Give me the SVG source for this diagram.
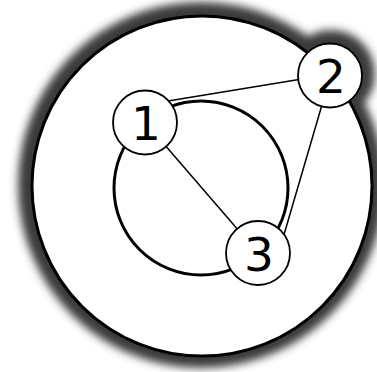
<svg xmlns="http://www.w3.org/2000/svg" width="377" height="372" viewBox="0 0 377 372">
<defs>
<filter id="blur" x="-20%" y="-20%" width="140%" height="140%"><feGaussianBlur stdDeviation="4"/></filter>
<style>
.node circle{fill:#fff;stroke:#000;stroke-width:1.8}
.node text{font-family:"DejaVu Sans",Verdana,sans-serif;font-size:47px;text-anchor:middle;fill:#000}
.edge{stroke:#000;stroke-width:1.5;fill:none}
</style>
</defs>
<rect width="377" height="372" fill="#fff"/>
<g id="shadow" filter="url(#blur)" fill="#3a3a3a">
<circle cx="201" cy="185" r="183"/>
<circle cx="331" cy="74" r="44"/>
</g>
<g id="outer">
<circle cx="202" cy="186" r="170" fill="#fff" stroke="#000" stroke-width="3"/>
</g>
<g id="inner">
<circle cx="201" cy="188" r="87" fill="none" stroke="#000" stroke-width="3"/>
</g>
<g id="connectors">
<line class="edge" x1="168" y1="101" x2="302" y2="79"/>
<line class="edge" x1="145" y1="122" x2="258" y2="253"/>
<line class="edge" x1="324" y1="98" x2="283" y2="238"/>
</g>
<g id="node1" class="node">
<circle cx="145" cy="122.5" r="32"/>
<text x="146" y="140">1</text>
</g>
<g id="node2" class="node">
<circle cx="330" cy="75.5" r="32"/>
<text x="331" y="93">2</text>
</g>
<g id="node3" class="node">
<circle cx="258" cy="253" r="32"/>
<text x="259" y="271">3</text>
</g>
</svg>
